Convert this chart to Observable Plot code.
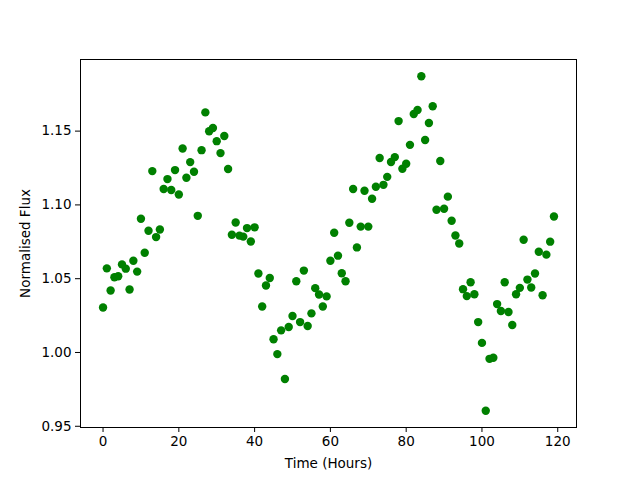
<!DOCTYPE html>
<html>
<head>
<meta charset="utf-8">
<script src="https://cdn.jsdelivr.net/npm/d3@7"></script>
<script src="https://cdn.jsdelivr.net/npm/@observablehq/plot@0.6"></script>
<style>
  html, body { margin: 0; padding: 0; background: #fff; }
  #chart svg { display: block; }
</style>
</head>
<body>
<div id="chart"></div>
<script>
const hours = d3.range(0, 120);
const flux = [
  1.0305, 1.0570, 1.0420, 1.0510, 1.0517, 1.0597, 1.0568, 1.0427, 1.0622, 1.0548,
  1.0906, 1.0676, 1.0825, 1.1229, 1.0782, 1.0833, 1.1108, 1.1175, 1.1101, 1.1236,
  1.1071, 1.1382, 1.1184, 1.1290, 1.1225, 1.0926, 1.1371, 1.1627, 1.1499, 1.1521,
  1.1432, 1.1351, 1.1467, 1.1243, 1.0798, 1.0881, 1.0792, 1.0785, 1.0843, 1.0752,
  1.0848, 1.0535, 1.0312, 1.0454, 1.0505, 1.0090, 0.9989, 1.0150, 0.9820, 1.0173,
  1.0247, 1.0483, 1.0206, 1.0555, 1.0179, 1.0265, 1.0436, 1.0393, 1.0312, 1.0380,
  1.0622, 1.0811, 1.0656, 1.0537, 1.0483, 1.0879, 1.1108, 1.0712, 1.0853, 1.1096,
  1.0853, 1.1042, 1.1123, 1.1318, 1.1136, 1.1190, 1.1291, 1.1324, 1.1568, 1.1245,
  1.1279, 1.1407, 1.1616, 1.1643, 1.1872, 1.1440, 1.1555, 1.1669, 1.0967, 1.1298,
  1.0974, 1.1056, 1.0893, 1.0793, 1.0738, 1.0429, 1.0382, 1.0476, 1.0395, 1.0206,
  1.0065, 0.9605, 0.9957, 0.9964, 1.0328, 1.0281, 1.0476, 1.0274, 1.0186, 1.0395,
  1.0438, 1.0764, 1.0494, 1.0440, 1.0535, 1.0683, 1.0388, 1.0663, 1.0751, 1.0921
];
const xTicks = [0, 20, 40, 60, 80, 100, 120];
const yTicks = [0.95, 1.00, 1.05, 1.10, 1.15];
const xLabel = "Time (Hours)";
const yLabel = "Normalised Flux";

const data = hours.map((h, i) => ({hour: h, flux: flux[i]}));

// matplotlib-style 5% margins around the data extent
const xExt = d3.extent(hours), yExt = d3.extent(flux);
const xPad = (xExt[1] - xExt[0]) * 0.05, yPad = (yExt[1] - yExt[0]) * 0.05;

const chart = Plot.plot({
  width: 640,
  height: 480,
  marginLeft: 80,
  marginRight: 64,
  marginTop: 59,
  marginBottom: 53,
  style: {fontFamily: "DejaVu Sans", fontSize: "13.5px", color: "#000", background: "#fff"},
  x: {domain: [xExt[0] - xPad, xExt[1] + xPad]},
  y: {domain: [yExt[0] - yPad, yExt[1] + yPad]},
  marks: [
    Plot.dot(data, {x: "hour", y: "flux", r: 4.2, fill: "#008000", stroke: "none"}),
    Plot.frame({stroke: "#000", strokeWidth: 1}),
    Plot.axisX({ticks: xTicks, tickSize: 5, tickPadding: 4, label: xLabel,
      labelAnchor: "center", labelArrow: "none", labelOffset: 40, stroke: "#000", strokeWidth: 1}),
    Plot.axisY({ticks: yTicks, tickSize: 5, tickPadding: 4, tickFormat: d3.format(".2f"),
      label: yLabel, labelAnchor: "center", labelArrow: "none", labelOffset: 60, stroke: "#000", strokeWidth: 1})
  ]
});
document.getElementById("chart").appendChild(chart);
</script>
</body>
</html>
